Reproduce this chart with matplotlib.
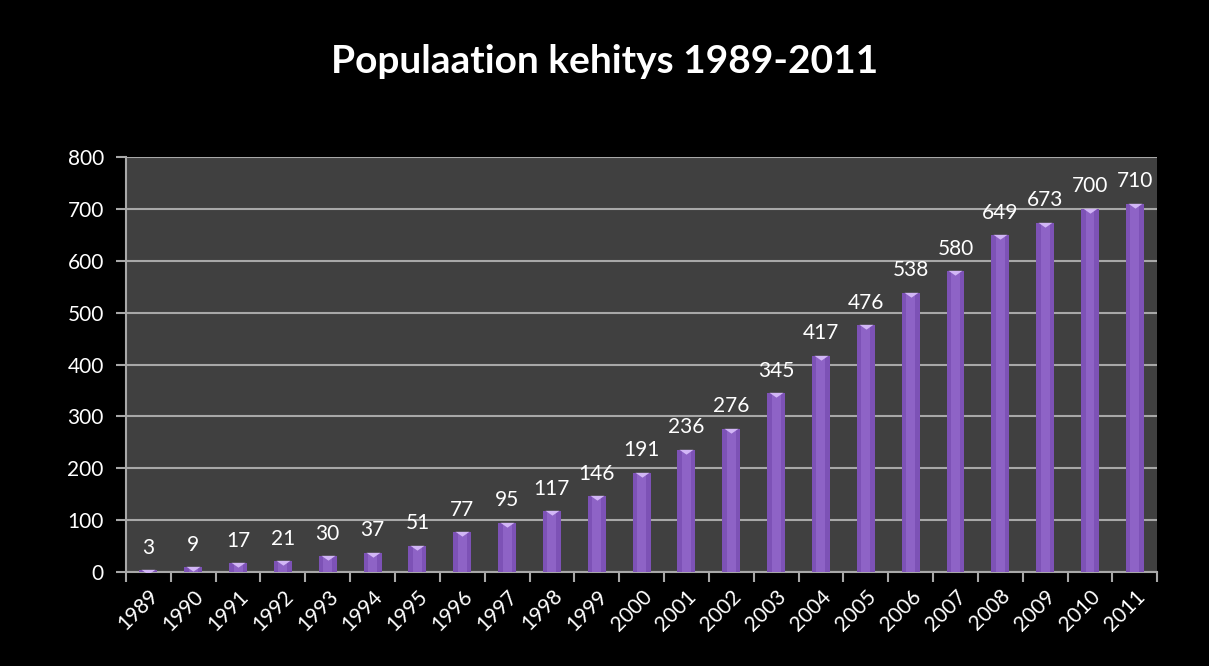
import numpy as np
import matplotlib.pyplot as plt

years = [str(y) for y in range(1989, 2012)]
population = [3, 9, 17, 21, 30, 37, 51, 77, 95, 117, 146, 191, 236, 276,
              345, 417, 476, 538, 580, 649, 673, 700, 710]

plt.rcParams['font.family'] = ['Lato', 'DejaVu Sans']

fig = plt.figure(figsize=(12.09, 6.66), dpi=100, facecolor='black')
ax = fig.add_axes([0.1042, 0.1411, 0.853, 0.6232])
ax.set_facecolor('#404040')

x = np.arange(len(years))
ax.bar(x, population, width=0.4, color='#7d52b6', linewidth=0, zorder=3)
# lighter centre stripe to mimic the cylinder shading
ax.bar(x, population, width=0.2, color='#9a70d2', alpha=0.6, linewidth=0,
       zorder=3)
# light cap on each bar top
cap = [(-1, 0.1), (1, 0.1), (0, -0.6), (-1, 0.1)]
ax.scatter(x, population, marker=cap, s=100, color='#d2b6f6', zorder=4,
           linewidths=0)

for xi, v in zip(x, population):
    ax.annotate(str(v), (xi, v), xytext=(0, 9), textcoords='offset points',
                ha='center', va='bottom', color='white', fontsize=15)

ax.set_xlim(-0.5, len(years) - 0.5)
ax.set_ylim(0, 800)
ax.set_yticks(range(0, 801, 100))
ax.yaxis.grid(True, color='#a8a8a8', linewidth=1.5, zorder=0)
ax.set_axisbelow(True)

ax.set_xticks(x)
ax.set_xticklabels(years, rotation=45, ha='right', rotation_mode='anchor')
ax.set_xticks(np.arange(-0.5, len(years)), minor=True)
ax.tick_params(axis='x', which='major', length=0, pad=10, labelsize=15,
               colors='white')
ax.tick_params(axis='x', which='minor', length=7, width=1.5, color='#a8a8a8')
ax.tick_params(axis='y', length=7, width=1.5, color='#a8a8a8', labelsize=15,
               labelcolor='white', pad=9)

for s in ['top', 'right']:
    ax.spines[s].set_visible(False)
for s in ['left', 'bottom']:
    ax.spines[s].set_color('#a8a8a8')
    ax.spines[s].set_linewidth(1.5)

fig.text(0.5, 0.908, 'Populaation kehitys 1989-2011', ha='center', va='center',
         color='white', fontsize=28, fontweight='bold')

fig.savefig('out.png', dpi=100, facecolor='black')
